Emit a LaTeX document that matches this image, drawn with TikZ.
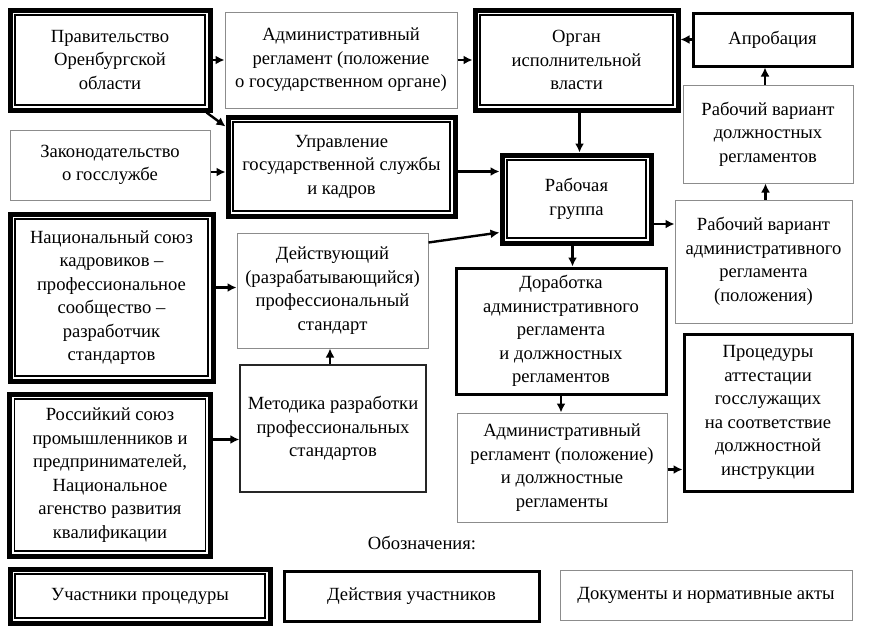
\documentclass[tikz,border=0pt]{standalone}
\usepackage{fontspec}
\setmainfont{Liberation Serif}
\usetikzlibrary{arrows.meta}

\tikzset{
	partbox/.style={draw, line width=5pt, align=center, inner sep=2pt,
		path picture={\draw[line width=1.3pt]
			([shift={(5pt,-5pt)}]path picture bounding box.north west) rectangle
			([shift={(-5pt,5pt)}]path picture bounding box.south east);}},
	actbox/.style={draw, line width=3pt, align=center, inner sep=2pt},
	docbox/.style={draw=black!45, line width=1pt, align=center, inner sep=2pt},
	arr/.style={-{Latex[length=9pt,width=9pt]}, line width=2.4pt}
}

\begin{document}
\begin{tikzpicture}[x=1pt, y=-1pt, font=\fontsize{18.6}{23.5}\selectfont]
	\useasboundingbox (0,0) rectangle (875,637);

	% participants
	\node[partbox, minimum width=200, minimum height=100] (gov) at (110,60) {Правительство\\Оренбургской\\области};
	\node[partbox, minimum width=227, minimum height=99] (upr) at (341.5,166.5) {Управление\\государственной службы\\и кадров};
	\node[partbox, minimum width=203, minimum height=100] (organ) at (576.5,60) {Орган\\исполнительной\\власти};
	\node[partbox, minimum width=149, minimum height=88] (rg) at (576.5,199) {Рабочая\\группа};
	\node[partbox, minimum width=203, minimum height=167] (nsk) at (111.5,297.5) {Национальный союз\\кадровиков --\\профессиональное\\сообщество --\\разработчик\\стандартов};
	\node[partbox, minimum width=201, minimum height=162] (rspp) at (110,475) {Российкий союз\\промышленников и\\предпринимателей,\\Национальное\\агенство развития\\квалификации};

	% actions
	\node[actbox, minimum width=159, minimum height=53] (aprob) at (772.5,39.5) {Апробация};
	\node[actbox, minimum width=210, minimum height=126] (dorab) at (561,331) {Доработка\\административного\\регламента\\и должностных\\регламентов};
	\node[actbox, minimum width=168, minimum height=157] (proc) at (768,412.5) {Процедуры\\аттестации\\госслужащих\\на соответствие\\должностной\\инструкции};

	% documents
	\node[docbox, minimum width=232, minimum height=96] (adm1) at (341,60) {Административный\\регламент (положение\\о государственном органе)};
	\node[docbox, minimum width=200, minimum height=70] (zak) at (110,165) {Законодательство\\о госслужбе};
	\node[docbox, minimum width=170, minimum height=98] (rvd) at (768,134) {Рабочий вариант\\должностных\\регламентов};
	\node[docbox, minimum width=177, minimum height=123] (rva) at (763.5,261.5) {Рабочий вариант\\административного\\регламента\\(положения)};
	\node[docbox, minimum width=191, minimum height=115] (deyst) at (332.5,290.5) {Действующий\\(разрабатывающийся)\\профессиональный\\стандарт};
	\node[docbox, draw=black!85, line width=1.3pt, minimum width=186, minimum height=127] (metod) at (333,428.5) {Методика разработки\\профессиональных\\стандартов};
	\node[docbox, minimum width=210, minimum height=109] (adm2) at (562,467.5) {Административный\\регламент (положение)\\и должностные\\регламенты};

	% connectors
	\draw[arr] (gov.east) -- (adm1.west);
	\draw[arr] (adm1.east) -- (organ.west);
	\draw[arr] (aprob.west) -- (aprob.west -| organ.east);
	\draw[arr] ([xshift=-6pt]gov.south east) -- ([yshift=-12pt]upr.north west);
	\coordinate (z1) at ([yshift=-7pt]zak.east);
	\draw[arr] (z1) -- (z1 -| upr.west);
	\draw[arr] ([xshift=3pt]organ.south) -- ([xshift=3pt]rg.north);
	\coordinate (u1) at ([yshift=-5pt]upr.east);
	\draw[arr] (u1) -- (u1 -| rg.west);
	\draw[arr] ([yshift=-10pt]deyst.north east) -- ([yshift=13pt]rg.south west);
	\coordinate (r1) at ([yshift=-25pt]rg.east);
	\draw[arr] (r1) -- (r1 -| rva.west);
	\coordinate (v1) at ([xshift=2pt]rva.north);
	\draw[arr] (v1) -- (v1 |- rvd.south);
	\coordinate (v2) at ([xshift=-3pt]rvd.north);
	\draw[arr] (v2) -- (v2 |- aprob.south);
	\coordinate (g1) at ([xshift=-4pt]rg.south);
	\draw[arr] (g1) -- (g1 |- dorab.north);
	\draw[arr] (dorab.south) -- (dorab.south |- adm2.north);
	\coordinate (a1) at ([yshift=-2pt]adm2.east);
	\draw[arr] (a1) -- (a1 -| proc.west);
	\coordinate (d1) at ([yshift=3pt]deyst.west);
	\draw[arr] (d1 -| nsk.east) -- (d1);
	\coordinate (m0) at ([xshift=-3pt]metod.north);
	\draw[arr] (m0) -- (m0 |- deyst.south);
	\coordinate (m1) at ([yshift=-11pt]metod.west);
	\draw[arr] (m1 -| rspp.east) -- (m1);

	% legend
	\node (obozn) at (422,543) {Обозначения:};
	\node[partbox, minimum width=260, minimum height=54] (legpart) at (140,596) {Участники процедуры};
	\node[actbox, minimum width=255, minimum height=50] (legact) at (411.5,596) {Действия участников};
	\node[docbox, minimum width=292, minimum height=50] (legdoc) at (706,595) {Документы и нормативные акты};

\end{tikzpicture}
\end{document}
